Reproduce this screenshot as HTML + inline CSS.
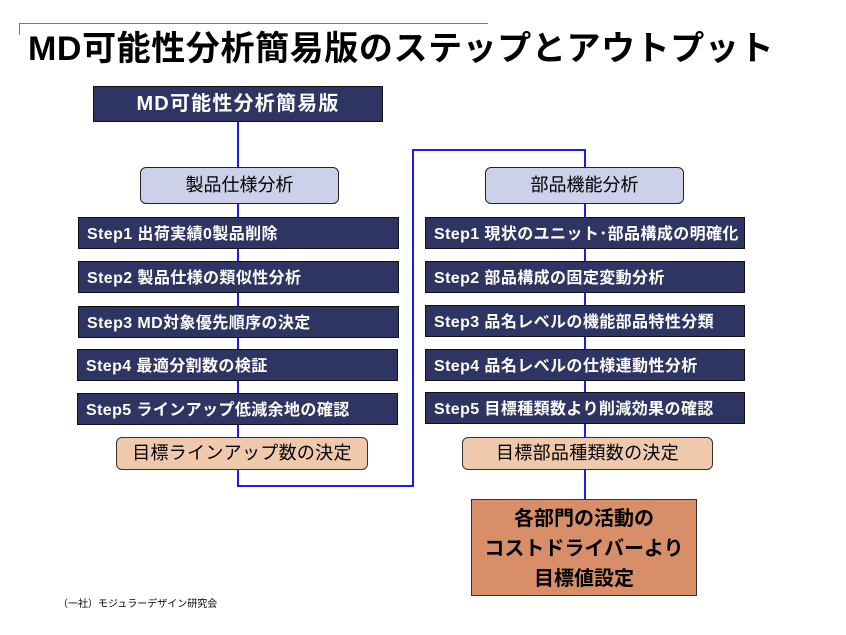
<!DOCTYPE html>
<html><head><meta charset="utf-8"><style>
body{margin:0;width:846px;height:635px;background:#fff;position:relative;overflow:hidden;font-family:"Liberation Sans","Noto Sans CJK JP",sans-serif}
.a{position:absolute;box-sizing:border-box}
.step{background:#2e3563;border:1px solid #111;color:#fff;font-weight:bold;font-size:16px;letter-spacing:0.4px;line-height:33px;padding-left:8px;white-space:nowrap;overflow:hidden}
.lb{background:#ccd0e8;border:1.5px solid #222;border-radius:6px;text-align:center;font-size:18px;line-height:35px}
.pb{background:#f0c9ad;border:1.5px solid #333;border-radius:6px;text-align:center;font-size:18px;line-height:31px;letter-spacing:0.3px}
.v{background:#1a1aff;width:2px}
.h{background:#1a1aff;height:2px}
</style></head><body>
<div class="a" style="left:19px;top:23px;width:469px;height:1px;background:#4a7fd8"></div>
<div class="a" style="left:19px;top:23px;width:1px;height:12px;background:#4a7fd8"></div>
<div class="a" style="left:28px;top:27px;font-size:34px;font-weight:bold;line-height:44px;white-space:nowrap;letter-spacing:0.6px">MD可能性分析簡易版のステップとアウトプット</div>

<div class="a v" style="left:237px;top:122px;height:46px"></div>
<div class="a v" style="left:237px;top:204px;height:282px"></div>
<div class="a h" style="left:237px;top:485px;width:177px"></div>
<div class="a v" style="left:412px;top:149px;height:338px"></div>
<div class="a h" style="left:412px;top:149px;width:174px"></div>
<div class="a v" style="left:584px;top:149px;height:351px"></div>

<div class="a" style="left:93px;top:86px;width:290px;height:36px;background:#2e3563;border:1px solid #111;color:#fff;font-weight:bold;font-size:20px;letter-spacing:1.2px;text-align:center;line-height:35px">MD可能性分析簡易版</div>
<div class="a lb" style="left:140px;top:167px;width:199px;height:37px">製品仕様分析</div>
<div class="a lb" style="left:485px;top:167px;width:199px;height:37px">部品機能分析</div>

<div class="a step" style="left:78px;top:217px;width:321px;height:32px">Step1 出荷実績0製品削除</div>
<div class="a step" style="left:78px;top:261px;width:321px;height:32px">Step2 製品仕様の類似性分析</div>
<div class="a step" style="left:78px;top:306px;width:321px;height:32px">Step3 MD対象優先順序の決定</div>
<div class="a step" style="left:77px;top:349px;width:321px;height:32px">Step4 最適分割数の検証</div>
<div class="a step" style="left:77px;top:393px;width:321px;height:32px">Step5 ラインアップ低減余地の確認</div>

<div class="a step" style="left:425px;top:217px;width:320px;height:32px">Step1 現状のユニット･部品構成の明確化</div>
<div class="a step" style="left:425px;top:261px;width:320px;height:32px">Step2 部品構成の固定変動分析</div>
<div class="a step" style="left:425px;top:305px;width:320px;height:32px">Step3 品名レベルの機能部品特性分類</div>
<div class="a step" style="left:425px;top:349px;width:320px;height:32px">Step4 品名レベルの仕様連動性分析</div>
<div class="a step" style="left:425px;top:392px;width:320px;height:32px">Step5 目標種類数より削減効果の確認</div>

<div class="a pb" style="left:116px;top:437px;width:252px;height:33px">目標ラインアップ数の決定</div>
<div class="a pb" style="left:462px;top:437px;width:251px;height:33px">目標部品種類数の決定</div>

<div class="a" style="left:471px;top:499px;width:226px;height:97px;background:#d88f69;border:1.5px solid #333;text-align:center;font-weight:bold;font-size:20px;line-height:30px;padding-top:4px">各部門の活動の<br>コストドライバーより<br>目標値設定</div>

<div class="a" style="left:58px;top:598px;font-size:10px;line-height:14px;white-space:nowrap">（一社）モジュラーデザイン研究会</div>
</body></html>
